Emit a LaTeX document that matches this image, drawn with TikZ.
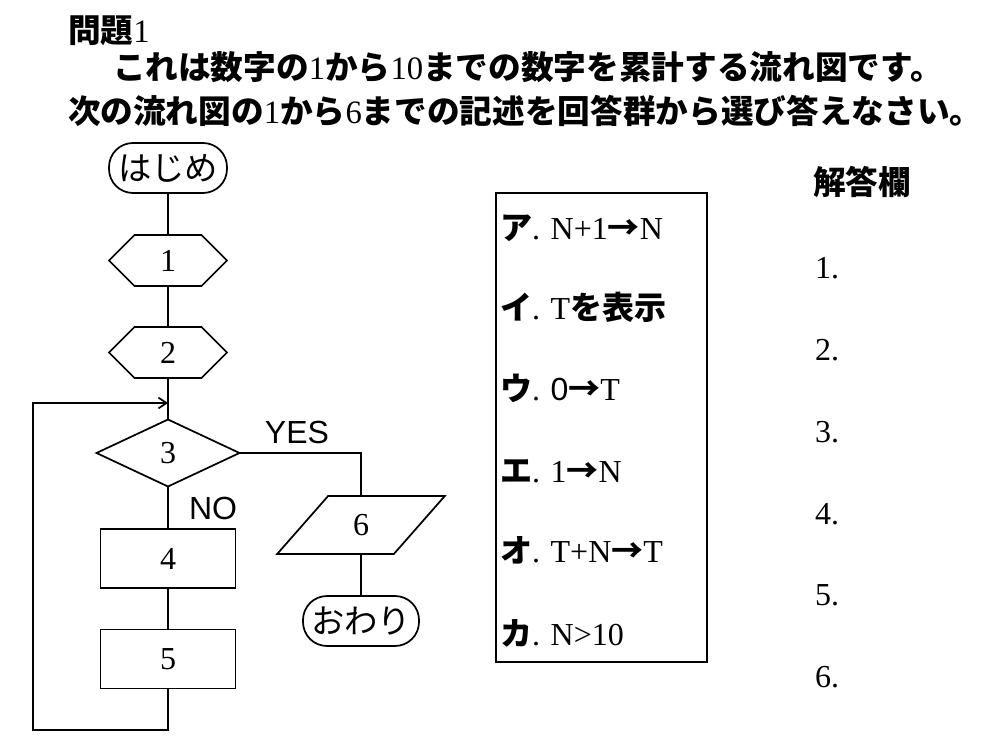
\documentclass[tikz,border=0pt]{standalone}
\usepackage{fontspec}
\setmainfont{Liberation Serif}
\setsansfont{Liberation Sans}
\newfontfamily\jp{Noto Sans CJK JP}
\usetikzlibrary{shapes.geometric,shapes.symbols,arrows.meta}
\newcommand{\J}[1]{{\jp\bfseries #1}}

\begin{document}
\begin{tikzpicture}[x=0.75pt,y=-0.75pt,
                    font=\fontsize{24pt}{28pt}\selectfont,
                    every node/.style={inner sep=0pt, outer sep=0pt},
                    flowline/.style={draw, line width=1.3pt},
                    term/.style={flowline, rounded corners=18pt, minimum width=88.5pt, minimum height=37.5pt},
                    prep/.style={flowline, shape=signal, signal to=west and east, signal pointer angle=90,
                                 minimum width=88.5pt, minimum height=38.25pt},
                    decide/.style={flowline, diamond, minimum width=107.25pt, minimum height=50.25pt},
                    proc/.style={flowline, rectangle, minimum width=101.25pt, minimum height=44.25pt},
                    io/.style={flowline, trapezium, trapezium left angle=60, trapezium right angle=120,
                               trapezium stretches=true, minimum width=126pt, minimum height=43.5pt},
                    item/.style={anchor=base west},
                    heading/.style={item, font=\fontsize{24.5pt}{28pt}\selectfont}]
  \useasboundingbox (0,0) rectangle (1008,756);

  % question text
  \node[heading] (title) at (68,43) {\J{問題}1};
  \node[heading] (line1) at (113,80) {\J{これは数字の}1\J{から}10\J{までの数字を累計する流れ図です。}};
  \node[heading] (line2) at (68,124) {\J{次の流れ図の}1\J{から}6\J{までの記述を回答群から選び答えなさい。}};

  % flow chart
  \node[term]   (start) at (168,168) {\jp\fontsize{25pt}{28pt}\selectfont はじめ};
  \node[prep]   (p1)    at (168,260.5) {1};
  \node[prep]   (p2)    at (168,352.5) {2};
  \node[decide] (dec)   at (168,453) {3};
  \node[proc]   (b4)    at (168,558.5) {4};
  \node[proc]   (b5)    at (168,659) {5};
  \node[io]     (out)   at (361,525) {6};
  \node[term, minimum width=87pt] (stop) at (361,621) {\jp\fontsize{25pt}{28pt}\selectfont おわり};
  \node (yes) at (297,432) {\sffamily YES};
  \node (no)  at (213,508) {\sffamily NO};
  \coordinate (loopbot) at (33,730);
  \coordinate (merge)   at (168,403);

  \draw[flowline] (start) -- (p1);
  \draw[flowline] (p1) -- (p2);
  \draw[flowline] (p2) -- (dec);
  \draw[flowline] (dec) -- (b4);
  \draw[flowline] (b4) -- (b5);
  \draw[flowline] (dec.east) -| (out.north);
  \draw[flowline] (out) -- (stop);
  % back to the test
  \draw[flowline, -{Straight Barb[length=6pt,width=8pt]}] (b5.south) |- (loopbot) |- (merge);

  % choices
  \node[flowline, minimum width=158.25pt, minimum height=351.75pt] (choices) at (601.5,427.5) {};
  \node[item] (ca) at (500,240) {\J{ア}. N+1\J{→}N};
  \node[item] (ci) at (500,320) {\J{イ}. T\J{を表示}};
  \node[item] (cu) at (500,400) {\J{ウ}. {\sffamily 0}\J{→}T};
  \node[item] (ce) at (500,482) {\J{エ}. 1\J{→}N};
  \node[item] (co) at (500,562) {\J{オ}. T+N\J{→}T};
  \node[item] (ck) at (500,645) {\J{カ}. N>10};

  % answer column
  \node[heading] (head) at (813,195) {\J{解答欄}};
  \node[item] (a1) at (815,279) {1.};
  \node[item] (a2) at (815,361) {2.};
  \node[item] (a3) at (815,442) {3.};
  \node[item] (a4) at (815,524) {4.};
  \node[item] (a5) at (815,605) {5.};
  \node[item] (a6) at (815,687) {6.};
\end{tikzpicture}
\end{document}
